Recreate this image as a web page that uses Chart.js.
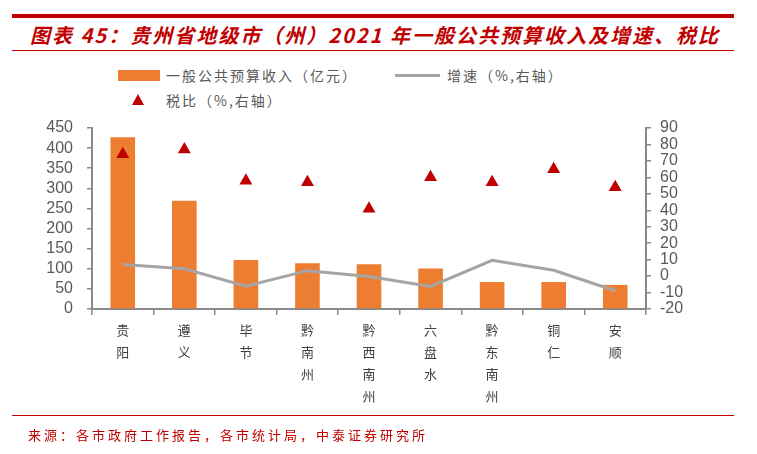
<!DOCTYPE html>
<html>
<head>
<meta charset="utf-8">
<script src="https://cdn.jsdelivr.net/npm/chart.js@4/dist/chart.umd.min.js"></script>
<style>
  body { margin: 0; width: 757px; height: 454px; background: #fff; position: relative; overflow: hidden;
         font-family: "Noto Sans CJK SC", sans-serif; }
  #topline { position: absolute; left: 12px; top: 14px; width: 722px; height: 4px; background: #C00000; }
  #title { position: absolute; left: 30px; top: 20px; font-size: 20px; font-weight: bold; font-style: italic;
           color: #C00000; white-space: nowrap; letter-spacing: 2px; }
  #midline { position: absolute; left: 12px; top: 50px; width: 722px; height: 1px; background: #C00000; }
  #botline { position: absolute; left: 12px; top: 415px; width: 722px; height: 1px; background: #C00000; }
  #source { position: absolute; left: 28px; top: 425px; font-size: 13px; color: #C00000; white-space: nowrap;
            letter-spacing: 3px; }
  .lg { position: absolute; font-size: 14px; color: #595959; white-space: nowrap; letter-spacing: 2px; }
  .sw { position: absolute; }
  canvas { position: absolute; left: 0; top: 0; }
</style>
</head>
<body>
<div id="topline"></div>
<div id="title">图表 45：贵州省地级市（州）2021 年一般公共预算收入及增速、税比</div>
<div id="midline"></div>

<div class="sw" style="left:118px;top:70px;width:42px;height:11px;background:#ED7D31"></div>
<div class="lg" style="left:166px;top:65px">一般公共预算收入（亿元）</div>
<div class="sw" style="left:395px;top:74px;width:45px;height:3px;background:#A5A5A5"></div>
<div class="lg" style="left:447px;top:65px">增速（%,右轴）</div>
<div class="sw" style="left:132px;top:94px;width:0;height:0;border-left:6px solid transparent;border-right:6px solid transparent;border-bottom:11px solid #C00000"></div>
<div class="lg" style="left:166px;top:90px">税比（%,右轴）</div>

<canvas id="myChart" width="757" height="454"></canvas>

<div id="botline"></div>
<div id="source">来源：各市政府工作报告，各市统计局，中泰证券研究所</div>

<script>
var cities = ["贵阳", "遵义", "毕节", "黔南州", "黔西南州", "六盘水", "黔东南州", "铜仁", "安顺"];
var revenue = [427, 269, 122, 114, 111, 101, 67, 67, 60];
var growth = [7, 4.5, -6.2, 3.3, -0.2, -6.3, 9.6, 3.5, -8.9];
var taxRatio = [74, 77, 58, 57, 41, 60, 57, 65, 54];

var axisGray = '#898989';
var tickFont = { family: "'Liberation Sans', Arial, sans-serif", size: 16 };

// vertical labels, one character per line
var labels = cities.map(function(c){ return c.split(''); });

var ctx = document.getElementById("myChart");
var myChart = new Chart(ctx, {
  type: 'bar',
  data: {
    labels: labels,
    datasets: [{
      label: '税比（%,右轴）',
      type: 'line',
      data: taxRatio,
      yAxisID: 'y2',
      showLine: false,
      pointStyle: 'triangle',
      pointRadius: 7.5,
      backgroundColor: '#C00000',
      borderColor: '#C00000',
      borderWidth: 0,
      order: 1
    }, {
      label: '增速（%,右轴）',
      type: 'line',
      data: growth,
      yAxisID: 'y2',
      borderColor: '#A5A5A5',
      borderWidth: 3,
      pointRadius: 0,
      tension: 0,
      order: 2
    }, {
      label: '一般公共预算收入（亿元）',
      data: revenue,
      yAxisID: 'y',
      backgroundColor: '#ED7D31',
      barPercentage: 0.8,
      categoryPercentage: 0.5,
      order: 3
    }]
  },
  options: {
    responsive: false,
    animation: false,
    layout: { padding: { top: 128, left: 0, right: 0, bottom: 0 } },
    plugins: {
      legend: { display: false },
      tooltip: { enabled: false }
    },
    scales: {
      x: {
        grid: { offset: true, drawOnChartArea: false, tickLength: 6, color: axisGray, lineWidth: 1.5 },
        border: { color: axisGray, width: 2 },
        ticks: {
          color: '#404040',
          font: { family: "'Noto Sans CJK SC', sans-serif", size: 13, lineHeight: 1.7 },
          padding: 4,
          maxRotation: 0,
          autoSkip: false
        },
        afterFit: function(scale){ scale.height = 145; }
      },
      y: {
        position: 'left',
        min: 0, max: 450,
        ticks: { stepSize: 50, autoSkip: false, color: '#595959', font: tickFont, padding: 14 },
        grid: { drawOnChartArea: false, tickLength: 5, color: axisGray, lineWidth: 1.5 },
        border: { color: axisGray, width: 2 },
        afterFit: function(scale){ scale.width = 92; }
      },
      y2: {
        position: 'right',
        min: -20, max: 90,
        ticks: { stepSize: 10, autoSkip: false, color: '#595959', font: tickFont, padding: 9 },
        grid: { drawOnChartArea: false, tickLength: 5, color: axisGray, lineWidth: 1.5 },
        border: { color: axisGray, width: 2 },
        afterFit: function(scale){ scale.width = 111; }
      }
    }
  }
});
</script>
</body>
</html>
